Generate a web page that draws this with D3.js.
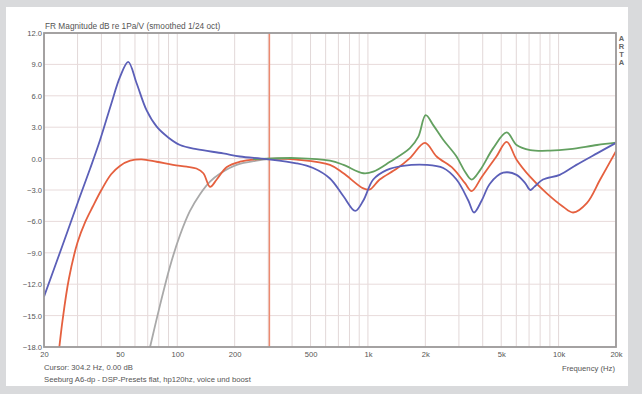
<!DOCTYPE html>
<html>
<head>
<meta charset="utf-8">
<script src="https://cdn.jsdelivr.net/npm/d3@7/dist/d3.min.js"></script>
<style>
  html, body { margin: 0; padding: 0; background: #d9dadc; }
  svg { display: block; font-family: "Liberation Sans", Arial, sans-serif; }
</style>
</head>
<body>
<div id="app"></div>
<script>
// --- data ---
var gridFreqs = [20, 30, 40, 50, 60, 70, 80, 90, 100, 200, 300, 400, 500, 600, 700, 800, 900,
                 1000, 2000, 3000, 4000, 5000, 6000, 7000, 8000, 9000, 10000, 20000];
var xTickFreqs = [20, 50, 100, 200, 500, 1000, 2000, 5000, 10000, 20000];
var xTickLabels = ["20", "50", "100", "200", "500", "1k", "2k", "5k", "10k", "20k"];
var yTicks = [-18, -15, -12, -9, -6, -3, 0, 3, 6, 9, 12];

var blueFreq = [20, 25, 30.9, 35, 39.4, 45, 50.1, 55.3, 61.2, 69.1, 78, 90, 103.4, 126, 174, 213, 294, 422, 516,
                632, 744, 858, 946, 1066, 1252, 1526, 2020, 2482, 2914, 3360, 3600, 3952, 4362, 5120, 6020,
                6680, 7100, 7450, 8280, 10140, 12400, 15900, 20000];
var blueDb = [-13.2, -8.3, -3.6, -0.9, 1.8, 5.2, 7.8, 9.25, 7.2, 4.6, 3.05, 2.0, 1.3, 0.9, 0.5, 0.2, -0.05, -0.45, -0.9,
              -1.9, -3.6, -5.0, -4.0, -2.0, -1.1, -0.7, -0.6, -0.9, -2.0, -4.0, -5.15, -4.0, -2.4, -1.35, -1.55,
              -2.35, -3.0, -2.7, -2.0, -1.55, -0.6, 0.5, 1.5];

var redFreq = [23, 24, 25, 27, 30, 33, 36, 40, 45, 50, 56.6, 65, 78, 95, 112, 126, 137, 148.6, 161, 182, 213, 261,
               344, 422, 632, 744, 946, 1024, 1152, 1418, 1660, 1992, 2292, 2800, 3230, 3500, 3952, 4720, 5340,
               6020, 7100, 8640, 10560, 11920, 14060, 16520, 20000];
var redDb = [-21, -18.2, -15.5, -11.5, -8.0, -6.0, -4.6, -3.0, -1.5, -0.7, -0.2, -0.07, -0.3, -0.6, -0.77, -0.95, -1.4,
             -2.7, -2.0, -0.8, -0.3, -0.07, 0.0, -0.1, -0.6, -1.4, -2.85, -2.95, -2.0, -0.95, 0.05, 1.5, 0.2,
             -0.95, -2.35, -3.1, -1.75, 0.2, 1.6, -0.1, -1.75, -3.3, -4.6, -5.15, -4.25, -2.0, 0.7];

var greenFreq = [250, 294, 422, 632, 744, 946, 1066, 1306, 1660, 1838, 2008, 2200, 2482, 2914, 3230, 3500, 3876,
                 4540, 5340, 6020, 7100, 9040, 11460, 15900, 20000];
var greenDb = [-0.05, 0.0, 0.05, -0.2, -0.6, -1.4, -1.25, -0.3, 1.0, 2.1, 4.15, 3.2, 1.8, 0.2, -1.25, -2.0, -1.1,
               1.0, 2.5, 1.3, 0.82, 0.76, 0.9, 1.3, 1.52];

var grayFreq = [68, 72, 81.2, 91.6, 103.4, 116.6, 131.6, 148.5, 168.6, 205, 261, 305, 400];
var grayDb = [-20, -18, -14, -10.3, -7.3, -5.0, -3.4, -2.2, -1.4, -0.6, -0.2, -0.05, 0.0];

var cursorFreq = 304.2;

// --- layout ---
var W = 642, H = 394;
var pL = 44, pT = 33, pR = 616, pB = 347;

var svg = d3.select("#app").append("svg").attr("width", W).attr("height", H);

// white panel on gray background
svg.append("rect").attr("x", 0).attr("y", 0).attr("width", W).attr("height", H).attr("fill", "#d9dadc");
svg.append("rect").attr("x", 6).attr("y", 7).attr("width", 622).attr("height", 379).attr("fill", "#ffffff");

var x = d3.scaleLog().domain([20, 20000]).range([pL, pR]);
var y = d3.scaleLinear().domain([-18, 12]).range([pB, pT]);

// grid
var grid = svg.append("g");
grid.selectAll("line.v").data(gridFreqs).enter().append("line")
    .attr("x1", d => x(d)).attr("x2", d => x(d))
    .attr("y1", pT).attr("y2", pB)
    .attr("stroke", "#e2d8d8").attr("stroke-width", 1);
grid.selectAll("line.h").data(yTicks).enter().append("line")
    .attr("x1", pL).attr("x2", pR)
    .attr("y1", d => y(d)).attr("y2", d => y(d))
    .attr("stroke", "#e8dbdb").attr("stroke-width", 1);

// cursor
svg.append("line")
    .attr("x1", x(cursorFreq)).attr("x2", x(cursorFreq))
    .attr("y1", pT).attr("y2", pB)
    .attr("stroke", "#ec8a70").attr("stroke-width", 1.5);

// curves
svg.append("clipPath").attr("id", "plotclip").append("rect")
    .attr("x", pL).attr("y", pT).attr("width", pR - pL).attr("height", pB - pT);

var line = d3.line()
    .x(d => x(d[0]))
    .y(d => y(d[1]))
    .curve(d3.curveCatmullRom.alpha(0.5));

var curves = [
  { f: grayFreq, v: grayDb, color: "#a9a9a9" },
  { f: redFreq, v: redDb, color: "#e5603f" },
  { f: greenFreq, v: greenDb, color: "#63a060" },
  { f: blueFreq, v: blueDb, color: "#5b5fb8" }
];

var cg = svg.append("g").attr("clip-path", "url(#plotclip)");
curves.forEach(function (c) {
  cg.append("path")
    .datum(d3.zip(c.f, c.v))
    .attr("d", line)
    .attr("fill", "none")
    .attr("stroke", c.color)
    .attr("stroke-width", 1.8)
    .attr("stroke-linejoin", "round");
});

// frame
svg.append("rect")
    .attr("x", pL).attr("y", pT).attr("width", pR - pL).attr("height", pB - pT)
    .attr("fill", "none").attr("stroke", "#9c9a9a").attr("stroke-width", 1.8);

// axes
var xAxis = d3.axisBottom(x).tickValues(xTickFreqs)
    .tickFormat((d, i) => xTickLabels[i]).tickSize(0).tickPadding(5);
var gx = svg.append("g").attr("transform", "translate(0," + pB + ")").call(xAxis);
gx.select(".domain").remove();
gx.selectAll("text").attr("fill", "#555").style("font-size", "7.6px");

var yAxis = d3.axisLeft(y).tickValues(yTicks).tickFormat(d3.format(".1f")).tickSize(0).tickPadding(2);
var gy = svg.append("g").attr("transform", "translate(" + pL + ",0)").call(yAxis);
gy.select(".domain").remove();
gy.selectAll("text").attr("fill", "#555").style("font-size", "7.6px");

// texts
svg.append("text").attr("x", pL + 1).attr("y", pT - 4)
    .attr("fill", "#555").style("font-size", "8.3px")
    .text("FR Magnitude dB re 1Pa/V (smoothed 1/24 oct)");

svg.append("text").attr("x", pL).attr("y", 370)
    .attr("fill", "#555").style("font-size", "7.7px")
    .text("Cursor: 304.2 Hz, 0.00 dB");
svg.append("text").attr("x", pL).attr("y", 382)
    .attr("fill", "#555").style("font-size", "7.7px")
    .text("Seeburg A6-dp - DSP-Presets flat, hp120hz, voice und boost");
svg.append("text").attr("x", pR - 1).attr("y", 371).attr("text-anchor", "end")
    .attr("fill", "#555").style("font-size", "7.7px")
    .text("Frequency (Hz)");

var arta = ["A", "R", "T", "A"];
svg.selectAll("text.arta").data(arta).enter().append("text")
    .attr("class", "arta")
    .attr("x", 621.5).attr("y", (d, i) => 41 + i * 8)
    .attr("text-anchor", "middle")
    .attr("fill", "#666").style("font-size", "7.5px").style("font-weight", "bold")
    .text(d => d);
</script>
</body>
</html>
